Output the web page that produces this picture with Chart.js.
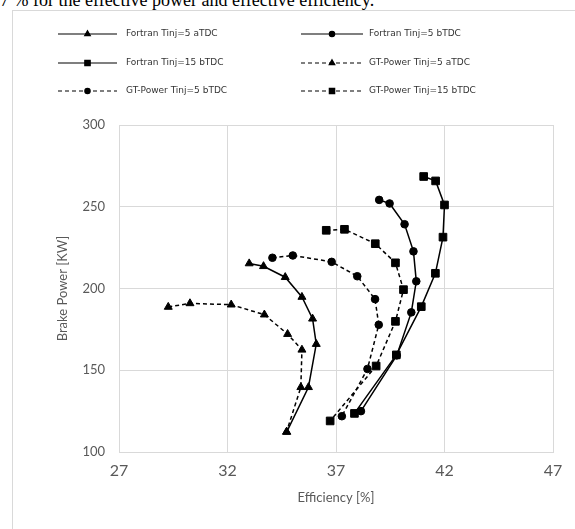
<!DOCTYPE html>
<html>
<head>
<meta charset="utf-8">
<script src="https://cdn.jsdelivr.net/npm/chart.js@4.4.1/dist/chart.umd.min.js"></script>
<style>
  html, body { margin: 0; padding: 0; background: #fff; overflow: hidden; }
  #cap { position: absolute; left: 0; top: -9px; font: 18px "Liberation Serif", serif; line-height: 1; white-space: nowrap; color: #000; }
  #frame { position: absolute; left: 12px; top: 10px; width: 620px; height: 560px; border: 1px solid #d9d9d9; }
  #wrap { position: absolute; left: 0; top: 0; width: 575px; height: 529px; }
</style>
</head>
<body>
<div id="cap">7 % for the effective power and effective efficiency.</div>
<div id="frame"></div>
<div id="wrap"><canvas id="chart" width="575" height="529"></canvas></div>
<script>
// efficiency [%] and brake power [kW] per injection timing
var effFortran5a = [33.00, 33.66, 34.66, 35.43, 35.92, 36.09, 35.73, 34.73];
var powFortran5a = [215.3, 213.6, 206.9, 194.8, 181.5, 166.0, 139.6, 112.3];

var effFortran5b = [38.99, 39.47, 40.16, 40.57, 40.70, 40.47, 39.80, 38.15];
var powFortran5b = [254.2, 252.0, 239.3, 222.7, 204.4, 185.4, 159.1, 125.0];

var effFortran15b = [41.04, 41.59, 42.00, 41.93, 41.58, 40.93, 39.78, 37.85];
var powFortran15b = [268.5, 265.8, 251.1, 231.4, 209.3, 188.9, 159.4, 123.6];

var effGT5a = [29.27, 30.27, 32.17, 33.70, 34.77, 35.43, 35.38, 34.72];
var powGT5a = [188.7, 190.9, 190.1, 184.0, 172.1, 162.5, 139.6, 112.3];

var effGT5b = [34.07, 35.01, 36.80, 37.98, 38.80, 38.97, 38.45, 37.27];
var powGT5b = [218.8, 220.2, 216.3, 207.5, 193.5, 177.8, 150.8, 121.9];

var effGT15b = [36.55, 37.39, 38.81, 39.74, 40.11, 39.74, 38.85, 36.73];
var powGT15b = [235.6, 236.2, 227.4, 215.7, 199.3, 179.9, 152.6, 119.0];

var xTicks = [27, 32, 37, 42, 47];
var yTicks = [100, 150, 200, 250, 300];

function pts(xs, ys) {
  var out = [];
  for (let i = 0; i < xs.length; i++) {
    out.push({x: xs[i], y: ys[i]});
  }
  return out;
}

function series(label, xs, ys, style, dashed) {
  var radius = {triangle: 4.6, circle: 3.8, rect: 5.4}[style];
  return {
    label: label,
    data: pts(xs, ys),
    showLine: true,
    borderColor: '#000',
    backgroundColor: '#000',
    borderWidth: 1.5,
    borderDash: dashed ? [4, 3] : [],
    pointStyle: style,
    pointRadius: radius,
    pointBorderWidth: 1,
    pointBackgroundColor: '#000',
    pointBorderColor: '#000'
  };
}

// two-column legend with a line and marker sample per entry
var sampleLegend = {
  id: 'sampleLegend',
  afterDraw(chart) {
    var ctx = chart.ctx;
    var cols = [{x0: 58, x1: 117, tx: 126}, {x0: 301, x1: 363, tx: 369}];
    var rows = [34, 63, 91];
    chart.data.datasets.forEach(function (ds, i) {
      var c = cols[i % 2];
      var y = rows[Math.floor(i / 2)];
      ctx.save();
      ctx.strokeStyle = '#000';
      ctx.lineWidth = 1.2;
      ctx.setLineDash(ds.borderDash.length ? [4, 3] : []);
      ctx.beginPath();
      ctx.moveTo(c.x0, y);
      ctx.lineTo(c.x1, y);
      ctx.stroke();
      ctx.setLineDash([]);
      ctx.fillStyle = '#000';
      Chart.helpers.drawPoint(ctx, {pointStyle: ds.pointStyle, radius: ds.pointRadius * 0.7, borderWidth: 1}, (c.x0 + c.x1) / 2, y);
      ctx.fill();
      ctx.fillStyle = '#333';
      ctx.font = '9px "DejaVu Sans"';
      ctx.textBaseline = 'middle';
      ctx.fillText(ds.label, c.tx, y);
      ctx.restore();
    });
  }
};

var chart = new Chart(document.getElementById('chart'), {
  type: 'scatter',
  data: {
    datasets: [
      series('Fortran Tinj=5 aTDC', effFortran5a, powFortran5a, 'triangle', false),
      series('Fortran Tinj=5 bTDC', effFortran5b, powFortran5b, 'circle', false),
      series('Fortran Tinj=15 bTDC', effFortran15b, powFortran15b, 'rect', false),
      series('GT-Power Tinj=5 aTDC', effGT5a, powGT5a, 'triangle', true),
      series('GT-Power Tinj=5 bTDC', effGT5b, powGT5b, 'circle', true),
      series('GT-Power Tinj=15 bTDC', effGT15b, powGT15b, 'rect', true)
    ]
  },
  options: {
    responsive: false,
    animation: false,
    events: [],
    layout: { padding: {left: 55, top: 125, right: 22, bottom: 23} },
    plugins: { legend: {display: false}, tooltip: {enabled: false} },
    scales: {
      x: {
        type: 'linear',
        min: 27, max: 47,
        afterBuildTicks: function (s) { s.ticks = xTicks.map(function (v) { return {value: v}; }); },
        afterFit: function (s) { s.height = 54; },
        grid: { color: '#d9d9d9', lineWidth: 1, drawTicks: false },
        border: { color: '#d9d9d9' },
        ticks: { padding: 9, color: '#595959', font: {family: 'Lato', size: 16} },
        title: { display: true, text: 'Efficiency [%]', color: '#595959', padding: 0, font: {family: 'Lato', size: 13} }
      },
      y: {
        min: 100, max: 300,
        afterBuildTicks: function (s) { s.ticks = yTicks.map(function (v) { return {value: v}; }); },
        afterFit: function (s) { s.width = 64; },
        grid: { color: '#d9d9d9', lineWidth: 1, drawTicks: false },
        border: { color: '#d9d9d9' },
        ticks: { padding: 14, color: '#595959', font: {family: 'Lato', size: 13} },
        title: { display: true, text: 'Brake Power [KW]', color: '#595959', padding: 0, font: {family: 'Lato', size: 13} }
      }
    }
  },
  plugins: [sampleLegend]
});
</script>
</body>
</html>
